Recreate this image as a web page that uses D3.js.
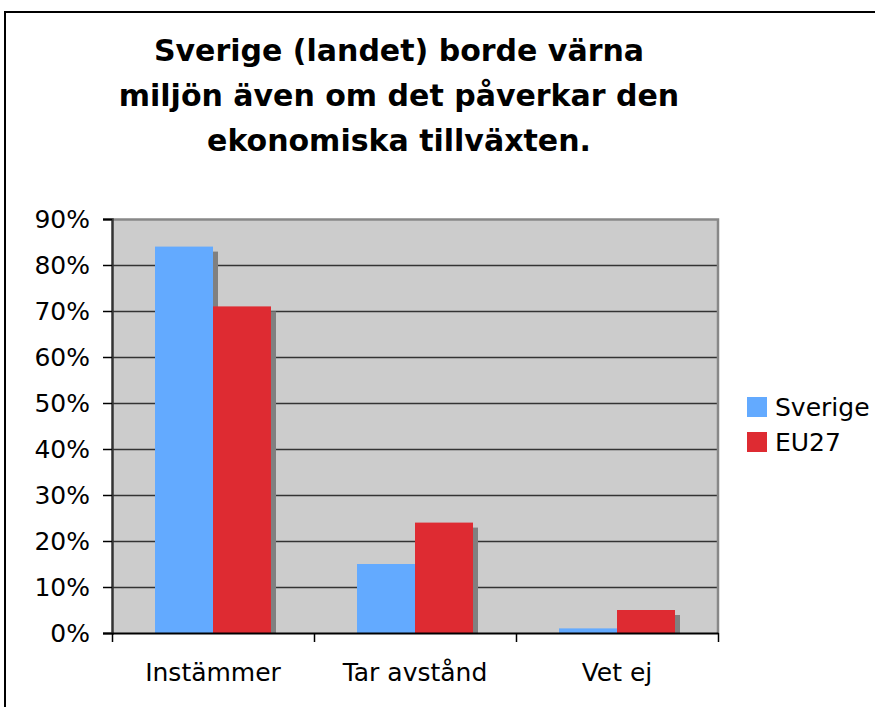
<!DOCTYPE html>
<html>
<head>
<meta charset="utf-8">
<script src="https://cdn.jsdelivr.net/npm/d3@7"></script>
<style>
  body { margin: 0; background: #fff; }
  svg { display: block; font-family: "DejaVu Sans", Verdana, sans-serif; }
</style>
</head>
<body>
<script>
// data
var categories = ["Instämmer", "Tar avstånd", "Vet ej"];
var seriesNames = ["Sverige", "EU27"];
var sverige = [84, 15, 1];
var eu27 = [71, 24, 5];
var yTicks = [0, 10, 20, 30, 40, 50, 60, 70, 80, 90];
var titleLines = ["Sverige (landet) borde värna", "miljön även om det påverkar den", "ekonomiska tillväxten."];

var colors = ["#63aaff", "#de2b32"];

var width = 875, height = 707;
var plot = {left: 112, right: 718, top: 219, bottom: 633};

var svg = d3.select("body").append("svg")
  .attr("width", width)
  .attr("height", height);

// outer frame
svg.append("rect")
  .attr("x", 5).attr("y", 12)
  .attr("width", 880).attr("height", 720)
  .attr("fill", "#fff")
  .attr("stroke", "#000")
  .attr("stroke-width", 2);

// title
svg.append("g").selectAll("text")
  .data(titleLines)
  .enter().append("text")
  .attr("x", 399)
  .attr("y", (d, i) => 61 + i * 45)
  .attr("text-anchor", "middle")
  .attr("font-size", "30px")
  .attr("font-weight", "bold")
  .attr("fill", "#000")
  .text(d => d);

// scales
var x0 = d3.scaleBand()
  .domain(categories)
  .range([plot.left, plot.right])
  .paddingInner(0)
  .paddingOuter(0);

var x1 = d3.scaleBand()
  .domain(seriesNames)
  .range([0, 116]);

var y = d3.scaleLinear()
  .domain([0, 90])
  .range([plot.bottom, plot.top]);

// plot background
svg.append("rect")
  .attr("x", plot.left).attr("y", plot.top)
  .attr("width", plot.right - plot.left)
  .attr("height", plot.bottom - plot.top)
  .attr("fill", "#cccccc");

// gridlines
svg.append("g").selectAll("line")
  .data(yTicks.slice(1, -1))
  .enter().append("line")
  .attr("x1", plot.left).attr("x2", plot.right)
  .attr("y1", d => Math.round(y(d)) + 0.5)
  .attr("y2", d => Math.round(y(d)) + 0.5)
  .attr("stroke", "#333")
  .attr("stroke-width", 1.5);

// plot border (top / right)
svg.append("path")
  .attr("d", "M" + plot.left + "," + (plot.top + 0.5) + "H" + plot.right + "V" + plot.bottom)
  .attr("fill", "none")
  .attr("stroke", "#888")
  .attr("stroke-width", 2.5);

// bars
var rows = categories.map((c, i) => ({cat: c, vals: [sverige[i], eu27[i]]}));
var groupOffset = (x0.bandwidth() - 116) / 2;

var grp = svg.append("g").selectAll("g")
  .data(rows)
  .enter().append("g")
  .attr("transform", d => "translate(" + (x0(d.cat) + groupOffset) + ",0)");

// shadows
grp.selectAll("rect.shadow")
  .data(d => d.vals.map((v, j) => ({name: seriesNames[j], v: v})))
  .enter().append("rect")
  .attr("class", "shadow")
  .attr("x", d => x1(d.name) + 5)
  .attr("y", d => y(d.v) + 5)
  .attr("width", x1.bandwidth())
  .attr("height", d => Math.max(0, plot.bottom - y(d.v) - 5))
  .attr("fill", "#808080");

grp.selectAll("rect.bar")
  .data(d => d.vals.map((v, j) => ({name: seriesNames[j], v: v, j: j})))
  .enter().append("rect")
  .attr("class", "bar")
  .attr("x", d => x1(d.name))
  .attr("y", d => y(d.v))
  .attr("width", x1.bandwidth())
  .attr("height", d => plot.bottom - y(d.v))
  .attr("fill", d => colors[d.j]);

// y axis
var yAxis = svg.append("g")
  .attr("transform", "translate(" + plot.left + ",0)")
  .call(d3.axisLeft(y).tickValues(yTicks).tickFormat(d => d + "%").tickSize(9).tickPadding(13));
yAxis.attr("font-size", null).attr("font-family", null);
yAxis.select(".domain").attr("stroke", "#333").attr("stroke-width", 2.5);
yAxis.selectAll(".tick line").attr("stroke", "#000").attr("stroke-width", 1.5);
yAxis.selectAll("text")
  .attr("font-size", "25px")
  .attr("fill", "#000");

// x axis
var xAxis = svg.append("g")
  .attr("transform", "translate(0," + plot.bottom + ")")
  .call(d3.axisBottom(x0).tickSize(0).tickPadding(30));
xAxis.attr("font-size", null).attr("font-family", null);
xAxis.select(".domain").attr("stroke", "#000").attr("stroke-width", 2);
xAxis.selectAll("text")
  .attr("font-size", "25px")
  .attr("fill", "#000");

// category separators
svg.append("g").selectAll("line")
  .data(categories.map(c => x0(c)).concat([plot.right]))
  .enter().append("line")
  .attr("x1", d => Math.round(d) + 0.5).attr("x2", d => Math.round(d) + 0.5)
  .attr("y1", plot.bottom).attr("y2", plot.bottom + 9)
  .attr("stroke", "#000")
  .attr("stroke-width", 1.5);

// legend
var legend = svg.append("g").selectAll("g")
  .data(seriesNames)
  .enter().append("g")
  .attr("transform", (d, i) => "translate(747," + (397 + i * 35) + ")");
legend.append("rect")
  .attr("width", 20).attr("height", 20)
  .attr("fill", (d, i) => colors[i]);
legend.append("text")
  .attr("x", 28).attr("y", 19)
  .attr("font-size", "25px")
  .attr("fill", "#000")
  .text(d => d);
</script>
</body>
</html>
